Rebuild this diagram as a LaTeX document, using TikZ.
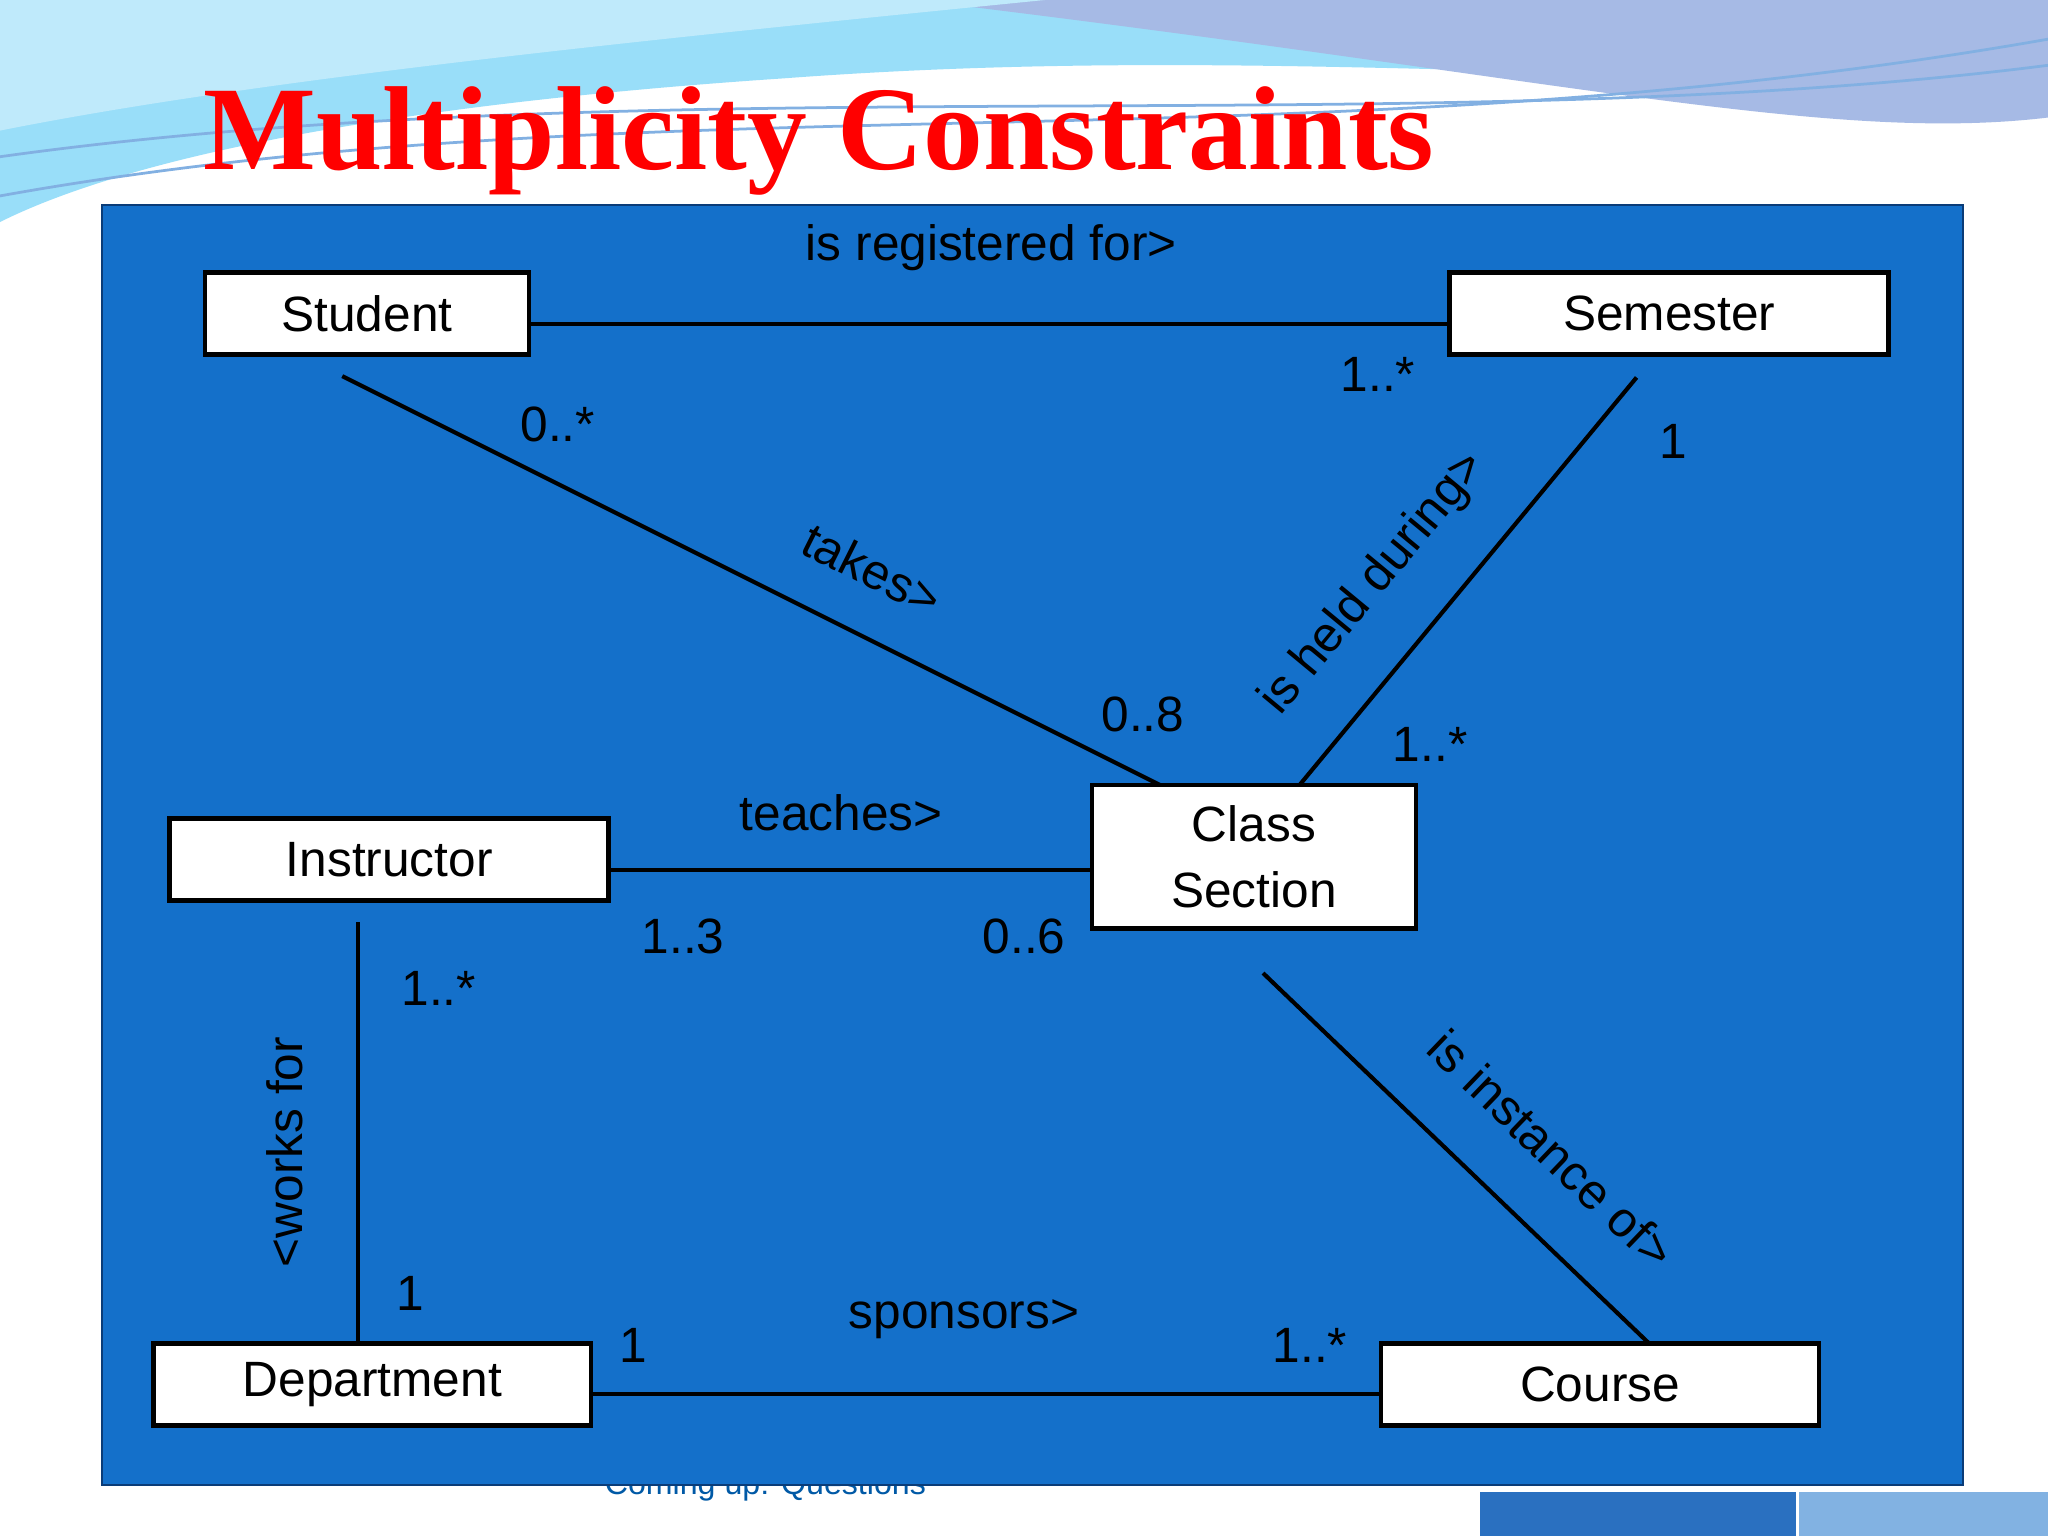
\documentclass[tikz,border=0pt]{standalone}
\usepackage{fontspec}
\setmainfont{Liberation Sans}
\newfontfamily\titlefont{Liberation Serif}
\definecolor{panel}{RGB}{20,112,202}
\definecolor{paneledge}{RGB}{10,60,120}
\definecolor{barA}{RGB}{42,112,192}
\definecolor{barB}{RGB}{130,178,226}
\begin{document}
\begin{tikzpicture}[x=0.01cm,y=-0.01cm,
  box/.style={draw=black,fill=white,line width=1pt,minimum height=0.63cm,inner sep=0pt,font=\fontsize{10.8}{12.5}\selectfont},
  lbl/.style={font=\fontsize{10.8}{12.5}\selectfont,text=black,inner sep=0pt},
  ln/.style={line width=0.9pt,black}]
\useasboundingbox (0,0) rectangle (1568,1176);
\fill[white] (0,0) rectangle (1568,1176);
% top waves
\fill[cyan!40] (0,0) -- (1568,0) -- (1568,40) .. controls (1300,80) and (1000,30) .. (600,60) .. controls (300,80) and (100,120) .. (0,170) -- cycle;
\fill[cyan!45!blue!35] (700,0) -- (1568,0) -- (1568,90) .. controls (1400,110) and (1200,60) .. (700,0);
\fill[cyan!25] (0,0) -- (800,0) .. controls (500,30) and (200,60) .. (0,100) -- cycle;
\draw[cyan!60!blue!50,line width=0.6pt] (0,150) .. controls (500,60) and (1000,130) .. (1568,30);
\draw[cyan!60!blue!50,line width=0.6pt] (0,120) .. controls (500,50) and (1100,110) .. (1568,50);
\node[text=teal!70!blue,font=\fontsize{7}{8}\selectfont] (foot) at (586,1138) {Coming up: Questions};
\fill[fill=panel,draw=paneledge,line width=0.5pt] (78,157) rectangle (1503,1137);
\node[text=red,font=\titlefont\bfseries\fontsize{26}{30}\selectfont] (title) at (627,108) {Multiplicity Constraints};
\fill[barA] (1133,1142) rectangle (1375,1176);
\fill[barB] (1377,1142) rectangle (1568,1176);
% boxes
\node[box,minimum width=2.48cm] (stu) at (281,240) {Student};
\node[box,minimum width=3.36cm] (sem) at (1278,240) {Semester};
\node[box,minimum width=3.36cm] (ins) at (298,658) {Instructor};
\node[box,minimum width=2.48cm,minimum height=1.1cm,align=center] (cls) at (960,656) {Class\\[2pt]Section};
\node[box,minimum width=3.35cm] (dep) at (285,1060) {Department};
\node[box,minimum width=3.35cm] (crs) at (1225,1060) {Course};
% coordinates
\coordinate (a1) at (262,288); \coordinate (a2) at (888,601);
\coordinate (b1) at (1253,289); \coordinate (b2) at (995,601);
\coordinate (c1) at (274,706); \coordinate (c2) at (274,1028);
\coordinate (d1) at (967,745); \coordinate (d2) at (1262,1028);
\draw[ln] (stu.east |- 0,248) -- (sem.west |- 0,248);
\draw[ln] (a1) -- (a2);
\draw[ln] (b1) -- (b2);
\draw[ln] (ins.east |- 0,666) -- (cls.west |- 0,666);
\draw[ln] (c1) -- (c2);
\draw[ln] (dep.east |- 0,1067) -- (crs.west |- 0,1067);
\draw[ln] (d1) -- (d2);
% labels
\node[lbl] (l1) at (759,190) {is registered for>};
\node[lbl] (l2) at (1055,287) {1..*};
\node[lbl] (l3) at (427,325) {0..*};
\node[lbl,rotate=-26.6] (l4) at (668,436) {takes>};
\node[lbl] (l5) at (875,547) {0..8};
\node[lbl] (l6) at (1281,338) {1};
\node[lbl,rotate=50.4] (l7) at (1052,447) {is held during>};
\node[lbl] (l8) at (1095,570) {1..*};
\node[lbl] (l9) at (644,622) {teaches>};
\node[lbl] (l10) at (523,717) {1..3};
\node[lbl] (l11) at (784,717) {0..6};
\node[lbl] (l12) at (336,757) {1..*};
\node[lbl,rotate=90] (l13) at (218,882) {<works for};
\node[lbl] (l14) at (314,990) {1};
\node[lbl] (l15) at (485,1030) {1};
\node[lbl] (l16) at (738,1010) {sponsors>};
\node[lbl] (l17) at (1003,1030) {1..*};
\node[lbl,rotate=-43.8] (l18) at (1188,880) {is instance of>};
\end{tikzpicture}
\end{document}
